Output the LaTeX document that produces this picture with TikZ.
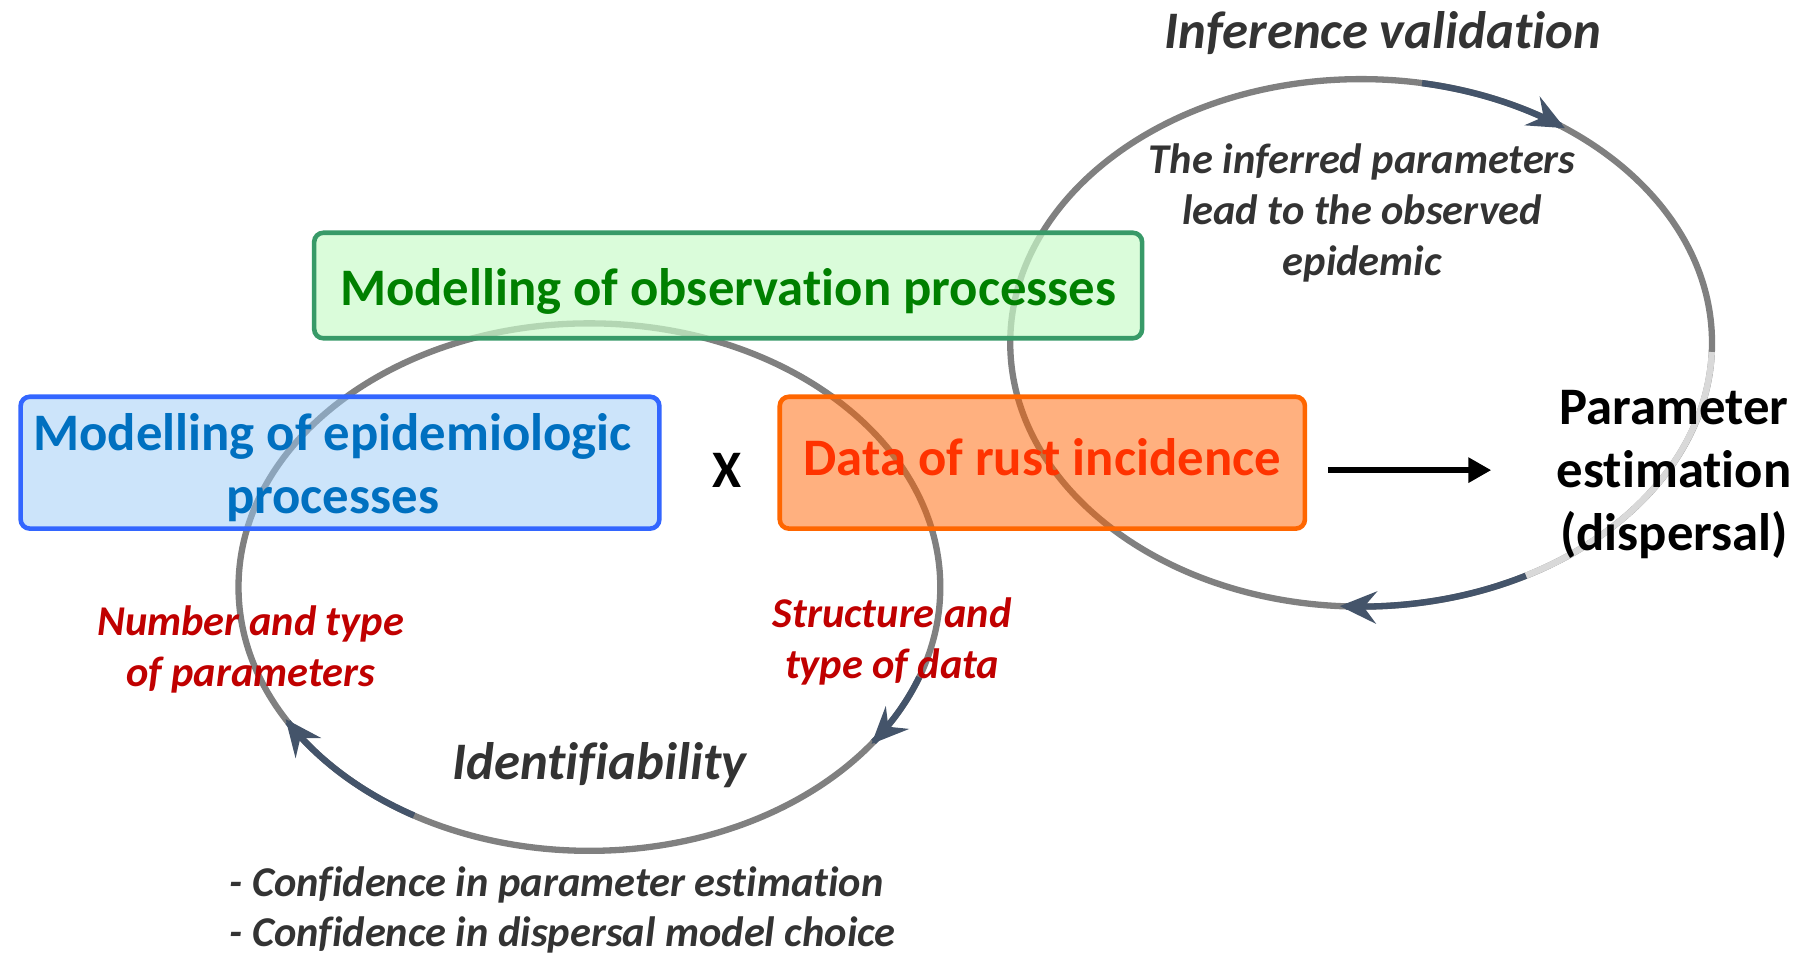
\documentclass[tikz,border=0pt]{standalone}
\usepackage{fontspec}
\setmainfont{Carlito}[Ligatures={NoCommon}]
\usetikzlibrary{arrows.meta}
\definecolor{cycgray}{HTML}{808080}
\definecolor{cyclight}{HTML}{D9D9D9}
\definecolor{cycdark}{HTML}{44546A}
\definecolor{grnF}{RGB}{202,251,202}
\definecolor{grnB}{RGB}{56,154,104}
\definecolor{grnT}{HTML}{008000}
\definecolor{bluF}{RGB}{153,201,245}
\definecolor{bluB}{RGB}{51,102,255}
\definecolor{bluT}{HTML}{0070C0}
\definecolor{orF}{RGB}{255,97,0}
\definecolor{orB}{HTML}{FF6600}
\definecolor{orT}{HTML}{FF3300}
\definecolor{txtgray}{HTML}{333333}
\definecolor{redT}{HTML}{C00000}
\begin{document}
\begin{tikzpicture}[x=1pt,y=-1pt,
  cyc/.style={draw=cycgray, line width=5.5pt},
  cyclite/.style={draw=cyclight, line width=5.5pt},
  cycarrow/.style={draw=cycdark, line width=5.5pt, -{Stealth[length=32pt,width=28pt,inset=11pt]}},
  procbox/.style={rounded corners=8pt, line width=4pt, fill opacity=0.5, draw opacity=1, text opacity=1,
    inner sep=0pt, font=\fontsize{46}{55}\selectfont\bfseries, align=center},
  bigtxt/.style={inner sep=0pt, font=\fontsize{46}{55}\selectfont\bfseries, align=center},
  bigital/.style={inner sep=0pt, font=\fontsize{46}{55}\selectfont\bfseries\itshape, text=txtgray, anchor=base},
  lbl/.style={inner sep=0pt, font=\fontsize{37}{44.5}\selectfont\bfseries\itshape, align=center, anchor=base},
  hArrow/.style={line width=5.5pt, -{Triangle[length=20pt,width=21pt]}}
]
\useasboundingbox (0,0) rectangle (1568,834);

% cycles
\coordinate (cL) at (514,512);
\coordinate (cR) at (1187,299);
\draw[cyc] (cL) ellipse [x radius=306, y radius=230];
\draw[cyc] (cR) ellipse [x radius=306, y radius=230];
\draw[cyclite] plot[domain=2:62, samples=40, variable=\t] ({1187+306*cos(\t)},{299+230*sin(\t)});
\draw[cycarrow] plot[domain=120:150, samples=40, variable=\t] ({514+306*cos(\t)},{512+230*sin(\t)});
\draw[cycarrow] plot[domain=20:36.5, samples=30, variable=\t] ({514+306*cos(\t)},{512+230*sin(\t)});
\draw[cycarrow] plot[domain=-80:-54.5, samples=30, variable=\t] ({1187+306*cos(\t)},{299+230*sin(\t)});
\draw[cycarrow] plot[domain=62:93.5, samples=30, variable=\t] ({1187+306*cos(\t)},{299+230*sin(\t)});

% boxes
\node[procbox, draw=grnB, fill=grnF, fill opacity=0.7, text=grnT, minimum width=722, minimum height=92,
  text height=40pt, text depth=6pt] (obs) at (635,249) {Modelling of observation processes};
\node[procbox, draw=bluB, fill=bluF, text=bluT, minimum width=557, minimum height=115,
  text height=95pt, text depth=6pt] (epi) at (296.5,403.5) {Modelling of epidemiologic\hspace*{13pt}\\processes\hspace*{13pt}};
\node[procbox, draw=orB, fill=orF, text=orT, minimum width=458, minimum height=115,
  text height=33pt, text depth=10pt] (data) at (909,403.5) {Data of rust incidence};

\node[bigtxt, anchor=base] (times) at (634,425) {X};
\node[bigtxt, anchor=base] (param) at (1460,480) {Parameter\\estimation\\(dispersal)};
\draw[hArrow, shorten <=18pt, shorten >=57pt] ([yshift=-6.5pt]data.east) -- ([yshift=-6.5pt]data.east -| param.west);

% labels
\node[bigital] (infval) at (1206,42) {Inference validation};
\node[bigital] (ident) at (522.5,680) {Identifiability};
\node[lbl, text=txtgray] (inferred) at (1188,240) {The inferred parameters\\lead to the observed\\epidemic};
\node[lbl, text=redT] (numtype) at (218.5,599) {Number and type\\of parameters};
\node[lbl, text=redT] (struct) at (778,592) {Structure and\\type of data};
\node[lbl, text=txtgray, align=left, anchor=base west, font=\fontsize{37}{43}\selectfont\bfseries\itshape] (conf) at (200,825)
  {- Confidence in parameter estimation\\- Confidence in dispersal model choice};
\end{tikzpicture}
\end{document}
